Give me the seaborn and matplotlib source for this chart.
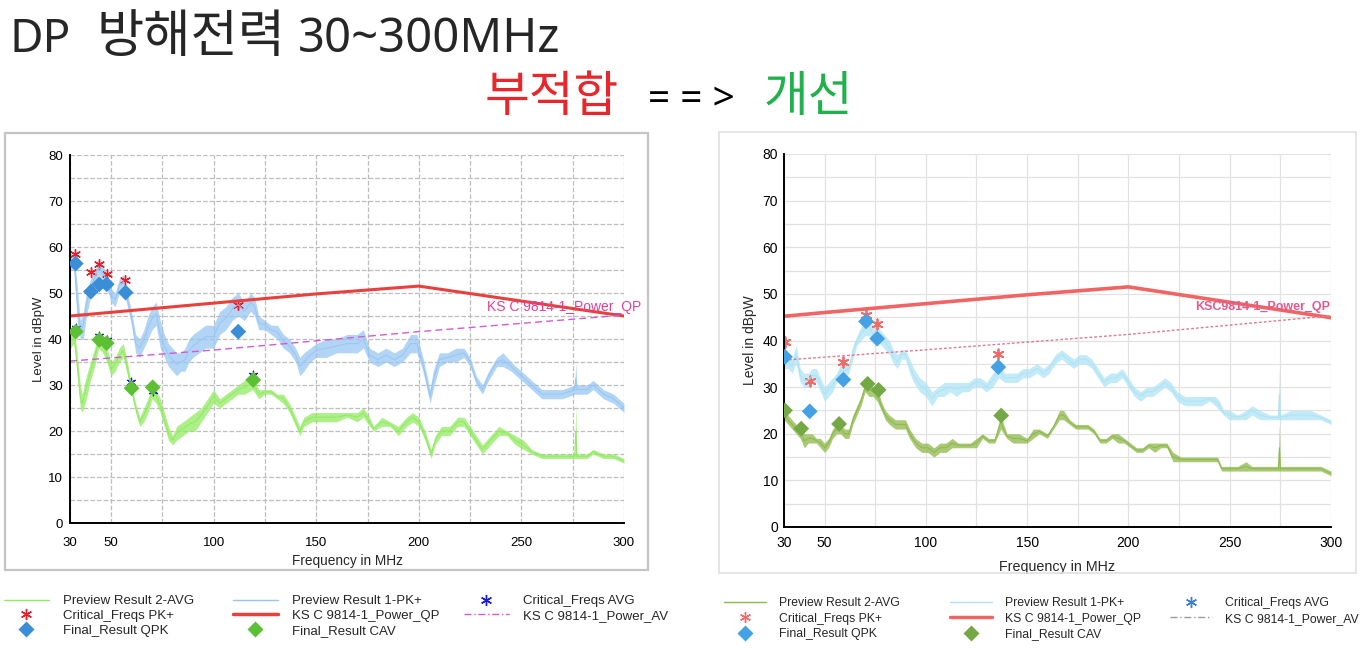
import numpy as np
import pandas as pd
import matplotlib
matplotlib.use("Agg")
import matplotlib.pyplot as plt
import seaborn as sns
from matplotlib.lines import Line2D
from matplotlib.patches import Rectangle

sns.set_theme(style="white")
plt.rcParams["font.family"] = ["Liberation Sans", "DejaVu Sans"]

# -------------------------
# LEFT CHART (부적합) - traces (low / high envelope)
# -------------------------
pk_l_f = [30, 32, 33.5, 35, 36.5, 38, 40, 42, 44, 46,
          48, 50, 52, 54, 56, 58, 60, 62, 64, 66,
          68, 70, 72, 74, 76, 78, 80, 82, 84, 86,
          88, 90, 93, 96, 100, 103, 106, 109, 112, 115,
          118, 120, 122, 125, 128, 131, 134, 137, 140, 142,
          144, 147, 150, 155, 160, 165, 170, 173, 176, 180,
          184, 188, 192, 196, 199, 202, 204, 205.5, 207, 210,
          214, 218, 222, 225, 228, 231, 234, 238, 241, 245,
          250, 255, 260, 265, 270, 276, 276.5, 277, 282, 285,
          290, 295, 300]
pk_l_lo = [55, 55, 44, 40, 40, 45, 49, 52, 54, 53,
           51, 48, 47, 50, 51, 47, 43, 37, 36, 38,
           40, 42, 43, 38, 36, 34, 33, 32, 33, 33,
           35, 36, 37, 38, 38, 41, 42, 44, 45, 44,
           46, 45, 42, 42, 41, 40, 38, 37, 35, 32,
           33, 35, 36, 36, 37, 37, 37, 38, 35, 34,
           35, 34, 35, 37, 37, 33, 29, 26, 29, 34,
           35, 35, 36, 34, 30, 28, 31, 34, 34, 33,
           31, 29, 27, 27, 27, 28, 28, 28, 28, 29,
           27, 26, 24]
pk_l_hi = [59, 58, 52, 44, 46, 50, 53, 55, 57, 56,
           54, 51, 50, 53, 54, 50, 46, 41, 40, 42,
           45, 47, 48, 44, 41, 39, 38, 37, 37, 38,
           40, 41, 42, 43, 43, 46, 47, 49, 50, 48,
           50, 49, 45, 44, 43, 43, 41, 40, 38, 36,
           37, 38, 39, 40, 40, 41, 41, 42, 38, 37,
           38, 37, 38, 41, 41, 36, 32, 29, 33, 37,
           37, 38, 38, 36, 32, 30, 33, 36, 37, 35,
           33, 31, 29, 29, 29, 30, 35, 30, 30, 31,
           29, 28, 26]

av_l_f = [30, 32, 33.5, 35, 36, 38, 40, 42, 44, 46,
          48, 50, 52, 54, 56, 58, 60, 62, 64, 66,
          68, 70, 72, 74, 76, 78, 80, 82, 85, 88,
          91, 94, 97, 100, 103, 106, 109, 112, 115, 119,
          122, 125, 128, 131, 134, 137, 140, 142, 144, 148,
          152, 156, 160, 165, 170, 173, 176, 178, 182, 186,
          190, 194, 197, 200, 203, 206, 208, 211, 215, 219,
          222, 225, 228, 231, 235, 239, 243, 247, 251, 255,
          260, 265, 270, 276, 276.5, 277, 282, 285, 290, 295,
          300]
av_l_lo = [38, 39, 32, 25, 24, 27, 31, 34, 38, 37,
           35, 32, 33, 35, 36, 32, 28, 24, 21, 22,
           24, 27, 26, 24, 21, 18, 17, 18, 19, 20,
           20, 22, 24, 26, 25, 26, 27, 28, 28, 29,
           27, 28, 28, 27, 26, 24, 21, 19, 21, 22,
           22, 22, 22, 23, 22, 23, 21, 20, 21, 21,
           19, 21, 22, 21, 18, 14, 17, 19, 19, 21,
           21, 19, 17, 15, 17, 19, 19, 17, 16, 15,
           14, 14, 14, 14, 14, 14, 14, 15, 14, 14,
           13]
av_l_hi = [42, 42, 37, 30, 28, 32, 35, 38, 41, 40,
           38, 35, 36, 38, 39, 35, 30, 26, 23, 25,
           27, 30, 29, 27, 24, 21, 19, 21, 22, 23,
           24, 25, 27, 29, 27, 28, 29, 30, 31, 32,
           29, 29, 29, 28, 28, 26, 23, 21, 23, 24,
           24, 24, 24, 24, 24, 25, 23, 21, 23, 22,
           21, 23, 24, 23, 20, 16, 19, 21, 21, 23,
           23, 21, 19, 17, 19, 21, 20, 19, 18, 16,
           15, 15, 15, 15, 26, 15, 15, 16, 15, 15,
           14]

# limit lines
qp_l_f = [30, 50, 100, 150, 200, 300]
qp_l = [45.0, 45.8, 47.8, 49.8, 51.5, 45.0]
avlim_l_f = [30, 100, 200, 300]
avlim_l = [35.2, 37.6, 41.6, 45.2]

# markers
critpk_l_f = [32.5, 40.2, 44.3, 47.9, 56.8, 112]
critpk_l = [58.4, 54.6, 56.4, 54.1, 52.9, 47.5]
qpk_l_f = [32.8, 40.2, 44.3, 47.9, 57.1, 112]
qpk_l = [56.4, 50.3, 51.9, 51.9, 50.1, 41.6]
cav_l_f = [32.8, 44.3, 47.9, 60.0, 70.3, 119.3]
cav_l = [41.6, 39.8, 39.1, 29.3, 29.5, 31.1]
critav_l_f = [32.8, 44.3, 47.9, 59.6, 70.3, 119.3]
critav_l = [42.3, 40.6, 39.8, 30.6, 28.6, 32.1]

# -------------------------
# RIGHT CHART (개선)
# -------------------------
pk_r_f = [30, 32, 34, 36, 38, 40, 42, 44, 46, 48,
          50, 52, 54, 56, 58, 60, 62, 64, 66, 68,
          70, 72, 74, 76, 78, 80, 82, 84, 86, 88,
          90, 92, 94, 97, 100, 103, 106, 109, 112, 115,
          118, 121, 124, 127, 130, 133, 136, 139, 142, 145,
          148, 151, 155, 158, 161, 164, 167, 170, 173, 176,
          179, 182, 185, 188, 191, 194, 197, 200, 203, 206,
          209, 212, 215, 218, 221, 224, 228, 232, 236, 240,
          243, 245, 247, 250, 254, 258, 261, 265, 270, 274,
          274.5, 275, 280, 285, 290, 295, 300]
pk_r_lo = [34, 34, 33, 35, 31, 30, 30, 31, 31, 29,
           27, 28, 29, 31, 32, 32, 33, 36, 39, 40,
           41, 41, 40, 40, 39, 38, 37, 35, 34, 36,
           36, 33, 31, 29, 28, 26, 28, 28, 29, 28,
           29, 29, 30, 30, 29, 30, 32, 31, 31, 31,
           32, 32, 33, 32, 33, 35, 36, 35, 34, 35,
           35, 34, 32, 30, 31, 31, 32, 30, 28, 27,
           28, 28, 29, 30, 29, 27, 26, 26, 26, 27,
           26, 25, 24, 23, 23, 23, 24, 23, 23, 23,
           23, 23, 23, 23, 23, 23, 22]
pk_r_hi = [38, 37, 36, 39, 34, 33, 33, 34, 34, 32,
           30, 31, 32, 33, 35, 35, 35, 39, 41, 43,
           44, 45, 43, 43, 42, 41, 40, 38, 37, 38,
           38, 36, 34, 32, 31, 29, 30, 31, 31, 31,
           31, 31, 32, 32, 31, 33, 35, 33, 33, 33,
           34, 34, 35, 34, 35, 37, 38, 37, 36, 37,
           37, 36, 34, 32, 33, 33, 34, 32, 30, 29,
           30, 30, 31, 32, 31, 29, 28, 28, 28, 28,
           28, 27, 25, 25, 24, 25, 26, 25, 24, 24,
           34, 24, 25, 25, 25, 24, 23]

av_r_f = [30, 32, 34, 36, 38, 40, 42, 44, 46, 48,
          50, 52, 54, 56, 58, 60, 62, 64, 66, 68,
          70, 72, 74, 76, 78, 80, 82, 85, 88, 90,
          92, 95, 98, 101, 104, 107, 110, 113, 116, 119,
          122, 125, 128, 131, 134, 137, 140, 143, 146, 150,
          153, 156, 160, 163, 166, 168, 171, 174, 177, 180,
          183, 186, 189, 192, 195, 198, 201, 204, 207, 210,
          213, 216, 219, 222, 226, 230, 234, 238, 241, 244,
          246, 250, 254, 258, 261, 265, 270, 274, 274.5, 275,
          280, 285, 290, 295, 300]
av_r_lo = [23, 22, 21, 20, 19, 17, 18, 18, 18, 17,
           16, 17, 19, 20, 20, 19, 19, 22, 24, 26,
           29, 28, 28, 27, 25, 23, 22, 21, 21, 21,
           19, 17, 16, 16, 15, 16, 16, 17, 17, 17,
           17, 17, 19, 18, 18, 21, 19, 18, 18, 18,
           19, 20, 19, 21, 23, 23, 22, 21, 21, 21,
           20, 18, 18, 19, 18, 18, 17, 16, 16, 17,
           16, 17, 17, 14, 14, 14, 14, 14, 14, 14,
           12, 12, 12, 12, 12, 12, 12, 12, 12, 12,
           12, 12, 12, 12, 11]
av_r_hi = [25, 24, 23, 22, 22, 20, 20, 20, 19, 19,
           18, 19, 21, 22, 22, 21, 21, 24, 26, 28,
           31, 31, 30, 30, 27, 25, 24, 23, 23, 23,
           21, 19, 18, 18, 17, 18, 18, 19, 18, 18,
           18, 19, 20, 19, 19, 24, 20, 20, 20, 19,
           21, 21, 20, 22, 25, 25, 23, 22, 22, 22,
           21, 19, 19, 20, 20, 19, 18, 17, 17, 18,
           18, 18, 18, 16, 15, 15, 15, 15, 15, 15,
           13, 13, 13, 14, 13, 13, 13, 13, 22, 13,
           13, 13, 13, 13, 12]

qp_r_f = [30, 50, 100, 150, 200, 300]
qp_r = [45.2, 46.0, 47.9, 49.8, 51.5, 44.9]
avlim_r_f = [30, 100, 200, 300]
avlim_r = [35.8, 38.0, 41.3, 45.3]

critpk_r_f = [30.5, 42.7, 59.0, 70.5, 76.0, 135.8]
critpk_r = [39.7, 31.3, 35.4, 45.4, 43.6, 37.2]
qpk_r_f = [30.5, 42.7, 59.3, 70.5, 76.0, 135.8]
qpk_r = [36.5, 24.8, 31.6, 44.1, 40.4, 34.3]
cav_r_f = [30.5, 38.5, 57.2, 71.3, 76.7, 137.2]
cav_r = [25.0, 21.1, 22.1, 30.7, 29.4, 23.9]

x_ticks = [30, 50, 75, 100, 125, 150, 175, 200, 225, 250, 275, 300]
x_labels = ["30", "50", "", "100", "", "150", "", "200", "", "250", "", "300"]
y_ticks = list(range(0, 81, 5))
y_labels = [str(v) if v % 10 == 0 else "" for v in y_ticks]

legend_cols = [["Preview Result 2-AVG", "Critical_Freqs PK+", "Final_Result QPK"],
               ["Preview Result 1-PK+", "KS C 9814-1_Power_QP", "Final_Result CAV"],
               ["Critical_Freqs AVG", "KS C 9814-1_Power_AV"]]

ASTER = (6, 2, 0)
W, H = 1364, 648
fig = plt.figure(figsize=(W / 100, H / 100), dpi=100)


def px_axes(x0, y0, x1, y1):
    return fig.add_axes([x0 / W, 1 - y1 / H, (x1 - x0) / W, (y1 - y0) / H])


def trace(ax, f, lo, hi, color):
    df = pd.DataFrame({"f": list(f) * 2, "lvl": list(lo) + list(hi)})
    sns.lineplot(data=df, x="f", y="lvl", ax=ax, color=color, lw=0.7,
                 errorbar=("pi", 100), err_kws={"alpha": 0.75, "linewidth": 0})


def style(ax, grid_ls, grid_color, xdir, ypad, xpad, fs, ylpad, xlpad):
    ax.set_xlim(30, 300)
    ax.set_ylim(0, 80)
    ax.set_xticks(x_ticks)
    ax.set_xticklabels(x_labels)
    ax.set_yticks(y_ticks)
    ax.set_yticklabels(y_labels)
    ax.grid(True, ls=grid_ls, color=grid_color, lw=0.9)
    ax.set_axisbelow(True)
    for s in ["top", "right"]:
        ax.spines[s].set_visible(False)
    for s in ["left", "bottom"]:
        ax.spines[s].set_color("black")
        ax.spines[s].set_linewidth(1.4)
    ax.tick_params(axis="y", direction="inout", length=5.5, width=1.3, labelsize=fs,
                   colors="black", pad=ypad)
    ax.tick_params(axis="x", direction=xdir, length=5, width=1.3, labelsize=fs,
                   colors="black", pad=xpad)
    ax.set_xlabel("Frequency in MHz", fontsize=fs + 0.3, labelpad=xlpad)
    ax.set_ylabel("Level in dBpW", fontsize=fs, labelpad=ylpad)


# -------------------------
# LEFT
# -------------------------
axl = px_axes(70, 155, 624, 523)
trace(axl, pk_l_f, pk_l_lo, pk_l_hi, "#98c6f2")
trace(axl, av_l_f, av_l_lo, av_l_hi, "#92ea62")
sns.lineplot(x=qp_l_f, y=qp_l, ax=axl, color="#e8403c", lw=2.2)
sns.lineplot(x=avlim_l_f, y=avlim_l, ax=axl, color="#d25ad6", lw=1.0, linestyle=(0, (5, 3)))
sns.scatterplot(x=critpk_l_f, y=critpk_l, ax=axl, marker=ASTER, s=50, color="#e81c2a", linewidth=1.0)
sns.scatterplot(x=critav_l_f, y=critav_l, ax=axl, marker=ASTER, s=38, color="#1c1cc8", linewidth=0.9)
sns.scatterplot(x=qpk_l_f, y=qpk_l, ax=axl, marker="D", s=65, color="#3a8ed8", edgecolor="none", zorder=5)
sns.scatterplot(x=cav_l_f, y=cav_l, ax=axl, marker="D", s=65, color="#5cbf34", edgecolor="none", zorder=5)
style(axl, "--", "#bdbdbd", "in", 2.5, 10, 9.5, 2, 4)
axl.text(233.2, 47.0, "KS C 9814-1_Power_QP", color="#e0409a", fontsize=10, va="center")

# -------------------------
# RIGHT
# -------------------------
axr = px_axes(784, 154, 1331, 527)
trace(axr, pk_r_f, pk_r_lo, pk_r_hi, "#aee3f5")
trace(axr, av_r_f, av_r_lo, av_r_hi, "#8db84a")
sns.lineplot(x=qp_r_f, y=qp_r, ax=axr, color="#f06464", lw=2.6)
sns.lineplot(x=avlim_r_f, y=avlim_r, ax=axr, color="#e07a8c", lw=1.0, linestyle=(0, (2, 1.5)))
sns.scatterplot(x=critpk_r_f, y=critpk_r, ax=axr, marker=ASTER, s=55, color="#f06a6a", linewidth=1.3)
sns.scatterplot(x=cav_r_f, y=cav_r, ax=axr, marker=ASTER, s=25, color="#3a7bd5", linewidth=0.8)
sns.scatterplot(x=qpk_r_f, y=qpk_r, ax=axr, marker="D", s=65, color="#44a2e4", edgecolor="none", zorder=5)
sns.scatterplot(x=cav_r_f, y=cav_r, ax=axr, marker="D", s=65, color="#74a844", edgecolor="none", zorder=5)
style(axr, "-", "#e2e2e2", "inout", 1.5, 4, 10, 4, 7)
axr.text(232.9, 47.1, "KSC9814-1_Power_QP", color="#e45a8e", fontsize=9, va="center",
         fontweight="bold")

# -------------------------
# FRAMES
# -------------------------
fig.patches.append(Rectangle((5 / W, 1 - 570 / H), 643 / W, 437 / H, transform=fig.transFigure,
                             fill=False, edgecolor="#c4c4c4", lw=1.6))
fig.patches.append(Rectangle((719 / W, 1 - 573 / H), 637 / W, 441 / H, transform=fig.transFigure,
                             fill=False, edgecolor="#e0e0e0", lw=1.2))

# -------------------------
# LEGENDS (one legend per column, placed like the original)
# -------------------------
def handles(c):
    return [[Line2D([], [], color=c["av"], lw=1),
             Line2D([], [], color=c["star"], marker=ASTER, ls="none", ms=8, mew=1),
             Line2D([], [], color=c["qpk"], marker="D", ls="none", ms=8, mec="none")],
            [Line2D([], [], color=c["pk"], lw=1),
             Line2D([], [], color=c["qp"], lw=2.5),
             Line2D([], [], color=c["cav"], marker="D", ls="none", ms=8, mec="none")],
            [Line2D([], [], color=c["cstar"], marker=ASTER, ls="none", ms=8, mew=1),
             Line2D([], [], color=c["avl"], lw=1, ls=(0, (5, 2, 1, 2)))]]


cl = {"av": "#92ea62", "star": "#e81c2a", "qpk": "#3a8ed8", "pk": "#98c6f2",
      "qp": "#e8403c", "cav": "#5cbf34", "cstar": "#1c1cc8", "avl": "#d25ad6"}
cr = {"av": "#8db84a", "star": "#f06a6a", "qpk": "#44a2e4", "pk": "#aee3f5",
      "qp": "#f06464", "cav": "#74a844", "cstar": "#3a7bd5", "avl": "#9a9a9a"}


def legend_block(c, xs, ytop, fs, spacing):
    for hs, labels, x in zip(handles(c), legend_cols, xs):
        fig.legend(hs, labels, loc="upper left", bbox_to_anchor=(x / W, 1 - ytop / H),
                   frameon=False, fontsize=fs, handlelength=3.4, handletextpad=1.1,
                   labelspacing=spacing, borderpad=0, borderaxespad=0)


legend_block(cl, [4, 233, 464], 595, 9.5, 0.2)
legend_block(cr, [724, 950, 1170], 597, 8.8, 0.3)

# -------------------------
# TITLES
# -------------------------
lat = ["Noto Sans", "DejaVu Sans"]
kr = ["Noto Sans CJK KR", "DejaVu Sans"]
fig.text(10 / W, 1 - 52 / H, "DP", fontsize=33, va="baseline", family=lat)
fig.text(96 / W, 1 - 52 / H, "방해전력", fontsize=37, va="baseline", family=kr)
fig.text(298 / W, 1 - 52 / H, "30~300MHz", fontsize=34, va="baseline", family=lat)
fig.text(552 / W, 1 - 97 / H, "부적합", fontsize=35, color="#e8262c", va="center", ha="center", family=kr)
fig.text(691 / W, 1 - 100 / H, "= = >", fontsize=28, color="black", va="center", ha="center", family=lat)
fig.text(808 / W, 1 - 97 / H, "개선", fontsize=35, color="#20b04c", va="center", ha="center", family=kr)

fig.savefig("out.png", dpi=100, facecolor="white")
